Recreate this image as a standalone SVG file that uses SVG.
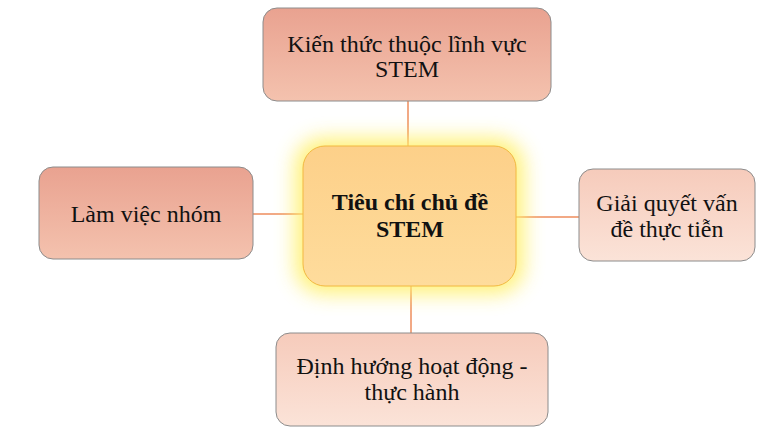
<svg xmlns="http://www.w3.org/2000/svg" width="776" height="432" viewBox="0 0 776 432">
<defs>
<linearGradient id="gDark" x1="0" y1="0" x2="0" y2="1">
<stop offset="0" stop-color="#e9a290"/>
<stop offset="1" stop-color="#f4c2ae"/>
</linearGradient>
<linearGradient id="gLight" x1="0" y1="0" x2="0" y2="1">
<stop offset="0" stop-color="#f6cbbb"/>
<stop offset="1" stop-color="#fbe3d8"/>
</linearGradient>
<linearGradient id="gCenter" x1="0" y1="0" x2="0" y2="1">
<stop offset="0" stop-color="#fdd089"/>
<stop offset="1" stop-color="#fedc9c"/>
</linearGradient>
<filter id="glow" x="-30%" y="-40%" width="160%" height="180%">
<feGaussianBlur stdDeviation="10"/>
</filter>
</defs>
<style>
.box{stroke:#8c8c8c;stroke-width:1}
.t{font-family:"Liberation Serif","Times New Roman",serif;font-size:24px;fill:#111;text-anchor:middle}
.b{font-weight:bold}
.c{stroke:#ee8c5c;stroke-width:1.5;fill:none}
</style>
<rect width="776" height="432" fill="#ffffff"/>
<g id="connectors">
<line class="c" x1="408" y1="101" x2="408" y2="146"/>
<line class="c" x1="253" y1="214" x2="303" y2="214"/>
<line class="c" x1="516" y1="217" x2="579" y2="217"/>
<line class="c" x1="411" y1="286" x2="411" y2="333"/>
</g>
<g id="center">
<rect x="295" y="138" width="229" height="156" rx="28" fill="#fff06a" filter="url(#glow)" opacity="0.9"/>
<rect x="303" y="146" width="213" height="140" rx="22" fill="url(#gCenter)" stroke="#f2b840" stroke-width="1"/>
<text class="t b" x="410" y="210">Tiêu chí chủ đề</text>
<text class="t b" x="410" y="237">STEM</text>
</g>
<g id="top">
<rect class="box" x="263" y="8" width="288" height="93" rx="14" fill="url(#gDark)"/>
<text class="t" x="407" y="52">Kiến thức thuộc lĩnh vực</text>
<text class="t" x="407" y="77">STEM</text>
</g>
<g id="left">
<rect class="box" x="39" y="167" width="214" height="92" rx="14" fill="url(#gDark)"/>
<text class="t" x="146" y="222">Làm việc nhóm</text>
</g>
<g id="right">
<rect class="box" x="579" y="169" width="176" height="92" rx="14" fill="url(#gLight)"/>
<text class="t" x="667" y="211">Giải quyết vấn</text>
<text class="t" x="667" y="237">đề thực tiễn</text>
</g>
<g id="bottom">
<rect class="box" x="276" y="333" width="272" height="93" rx="14" fill="url(#gLight)"/>
<text class="t" x="412" y="374">Định hướng hoạt động -</text>
<text class="t" x="412" y="400">thực hành</text>
</g>
</svg>
